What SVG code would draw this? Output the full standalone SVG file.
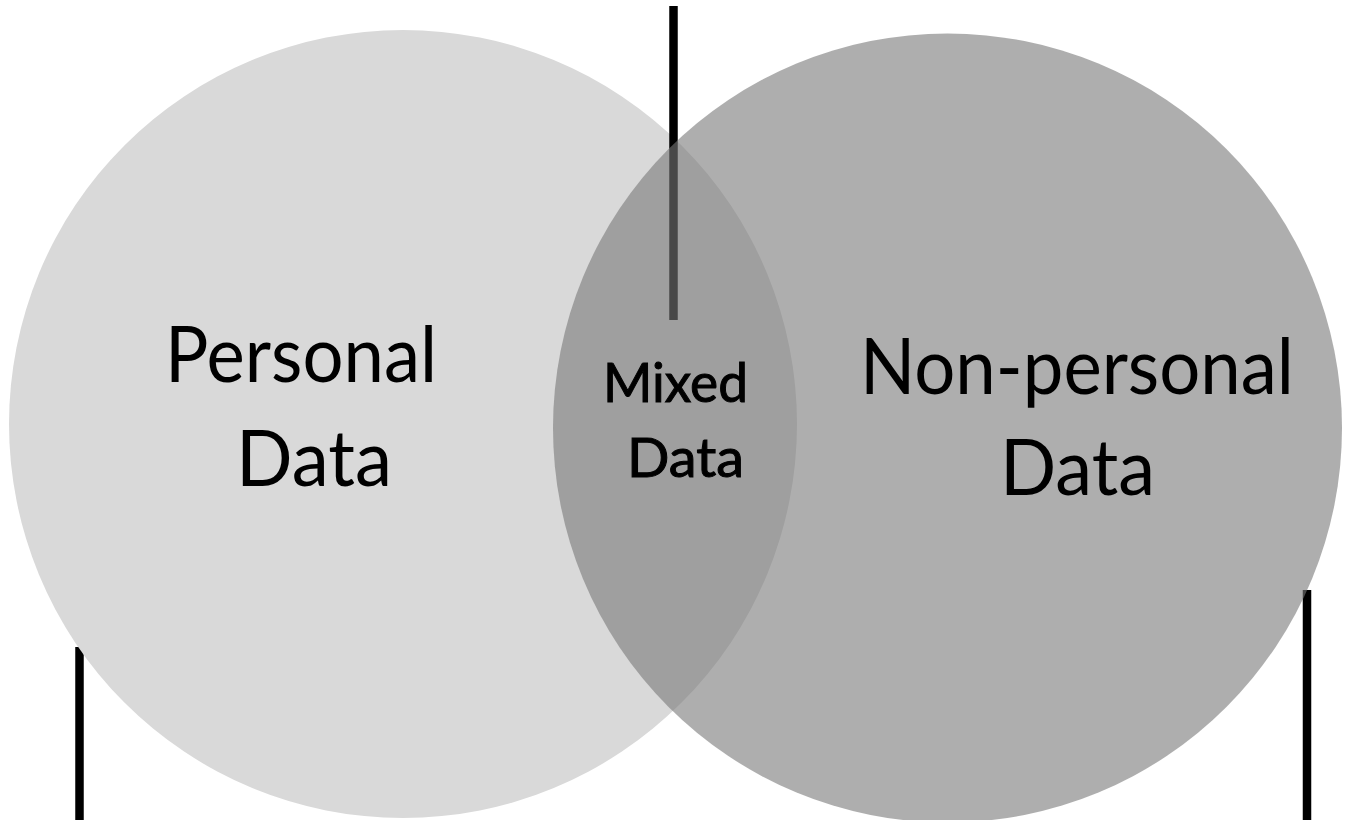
<svg xmlns="http://www.w3.org/2000/svg" width="1351" height="820" viewBox="0 0 1351 820">
<style>
.lbl{font-family:"Lato","Noto Sans","DejaVu Sans",sans-serif;fill:#000;text-anchor:middle}
.big{font-size:78px}
.mid{font-size:54px;stroke:#000;stroke-width:1}
.bar{stroke:#000;stroke-width:8.5}
</style>
<rect width="1351" height="820" fill="#fff"/>
<g id="connectors">
<line class="bar" x1="79.5" y1="647" x2="79.5" y2="820"/>
<line class="bar" x1="1307" y1="590" x2="1307" y2="820"/>
</g>
<g id="personal">
<circle cx="403" cy="424" r="394" fill="#d9d9d9"/>
</g>
<g id="connector-top">
<line class="bar" x1="673.5" y1="6" x2="673.5" y2="320"/>
</g>
<g id="nonpersonal">
<circle cx="947.5" cy="428" r="394.5" fill="#787878" fill-opacity="0.6"/>
</g>
<g id="labels">
<g id="personal-label">
<text class="lbl big" x="301" y="382" textLength="272" lengthAdjust="spacingAndGlyphs">Personal</text>
<text class="lbl big" x="314" y="486" textLength="156" lengthAdjust="spacingAndGlyphs">Data</text>
</g>
<g id="mixed-label">
<text class="lbl mid" x="675.5" y="402" textLength="145" lengthAdjust="spacingAndGlyphs">Mixed</text>
<text class="lbl mid" x="685.5" y="477" textLength="117" lengthAdjust="spacingAndGlyphs">Data</text>
</g>
<g id="nonpersonal-label">
<text class="lbl big" x="1077" y="394" textLength="434" lengthAdjust="spacingAndGlyphs">Non-personal</text>
<text class="lbl big" x="1077.5" y="495" textLength="155" lengthAdjust="spacingAndGlyphs">Data</text>
</g>
</g>
</svg>
